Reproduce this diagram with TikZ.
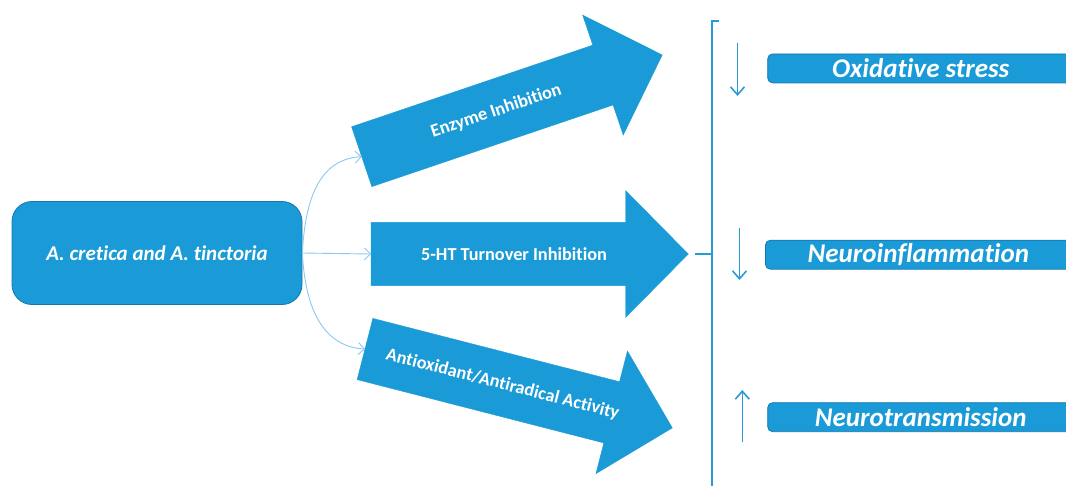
\documentclass[tikz,border=0pt]{standalone}
\usepackage{fontspec}
\setmainfont{Carlito}[Ligatures=NoCommon]
\usetikzlibrary{arrows.meta}
\definecolor{boxblue}{RGB}{26,155,215}
\definecolor{edgeblue}{RGB}{20,120,175}
\definecolor{linkblue}{RGB}{140,200,238}
\definecolor{markblue}{RGB}{40,155,215}
% block arrow: tail centre at the origin, pointing along +x
\newcommand{\blockarrow}{%
  (0,-31.6) -- (254.7,-31.6) -- (254.7,-63.3) -- (317.3,0) --
  (254.7,63.3) -- (254.7,31.6) -- (0,31.6) -- cycle}
\tikzset{
  mainbox/.style={draw=edgeblue, line width=0.8pt, fill=boxblue, rounded corners=20pt,
    minimum width=290pt, minimum height=103pt, text=white,
    font=\fontsize{21}{24}\selectfont\bfseries\itshape},
  effbox/.style={draw=edgeblue, line width=0.8pt, fill=boxblue, rounded corners=5pt,
    minimum width=306pt, minimum height=29pt, anchor=west, inner sep=0pt, text=white,
    font=\fontsize{27}{29}\selectfont\bfseries\itshape},
  arrowbody/.style={fill=boxblue, draw=boxblue, line width=0.4pt},
  arrowlabel/.style={text=white, font=\fontsize{18.3}{20}\selectfont\bfseries, inner sep=0pt},
  link/.style={draw=linkblue, line width=0.9pt, -{Straight Barb[length=6pt,width=12pt,line width=0.9pt]}},
  bracketline/.style={draw=markblue, line width=2pt},
  trend/.style={draw=markblue, line width=1.6pt, -{Straight Barb[length=8pt,width=14pt,line width=1.6pt]}}
}
\begin{document}
\begin{tikzpicture}[x=1pt,y=-1pt]
\useasboundingbox (0,0) rectangle (1066,485);
\clip (0,0) rectangle (1066,485);

% source box
\node[mainbox] (src) at (157,253) {A. cretica and A. tinctoria};

% three block arrows with their labels
\begin{scope}[shift={(361.7,156.7)}, rotate=18.7]
  \fill[arrowbody] \blockarrow;
  \coordinate (enzTail) at (0,0);
  \coordinate (enzTip) at (317.3,0);
  \node[arrowlabel, rotate=18.7] (enz) at (142,0) {Enzyme Inhibition};
\end{scope}
\begin{scope}[shift={(371,254)}]
  \fill[arrowbody] \blockarrow;
  \coordinate (htTail) at (0,0);
  \coordinate (htTip) at (317.3,0);
  \node[arrowlabel] (ht) at (143,0) {5-HT Turnover Inhibition};
\end{scope}
\begin{scope}[shift={(365,349)}, rotate=-14.4]
  \fill[arrowbody] \blockarrow;
  \coordinate (antTail) at (0,0);
  \coordinate (antTip) at (317.3,0);
  \node[arrowlabel, rotate=-14.4] (ant) at (142,0) {Antioxidant/Antiradical Activity};
\end{scope}

% connectors from the source box
\draw[link] (src.east) .. controls +(3,-62) and +(-38,2) .. (enzTail);
\draw[link] (src.east) -- (htTail);
\draw[link] (src.east) .. controls +(3,62) and +(-38,-2) .. (antTail);

% bracket collecting the effects
\coordinate (bTop) at (711.7,20.5);
\coordinate (bHook) at (718.5,20.5);
\coordinate (bMid) at (711.7,254);
\coordinate (bTick) at (695,254);
\coordinate (bBot) at (711.7,495);
\draw[bracketline] (bHook) -- (bTop) -- (bBot);
\draw[bracketline] (bTick) -- (bMid);

% trend arrows
\coordinate (t1a) at (737.5,43); \coordinate (t1b) at (737.5,96);
\coordinate (t2a) at (739.5,228); \coordinate (t2b) at (739.5,280);
\coordinate (t3a) at (742.3,442); \coordinate (t3b) at (742.3,390);
\draw[trend] (t1a) -- (t1b);
\draw[trend] (t2a) -- (t2b);
\draw[trend] (t3a) -- (t3b);

% effect boxes
\node[effbox] (ox) at (767.3,68.4) {Oxidative stress};
\node[effbox] (ni) at (765,254.7) {Neuroinflammation};
\node[effbox] (nt) at (767.3,417.2) {Neurotransmission};
\end{tikzpicture}
\end{document}
